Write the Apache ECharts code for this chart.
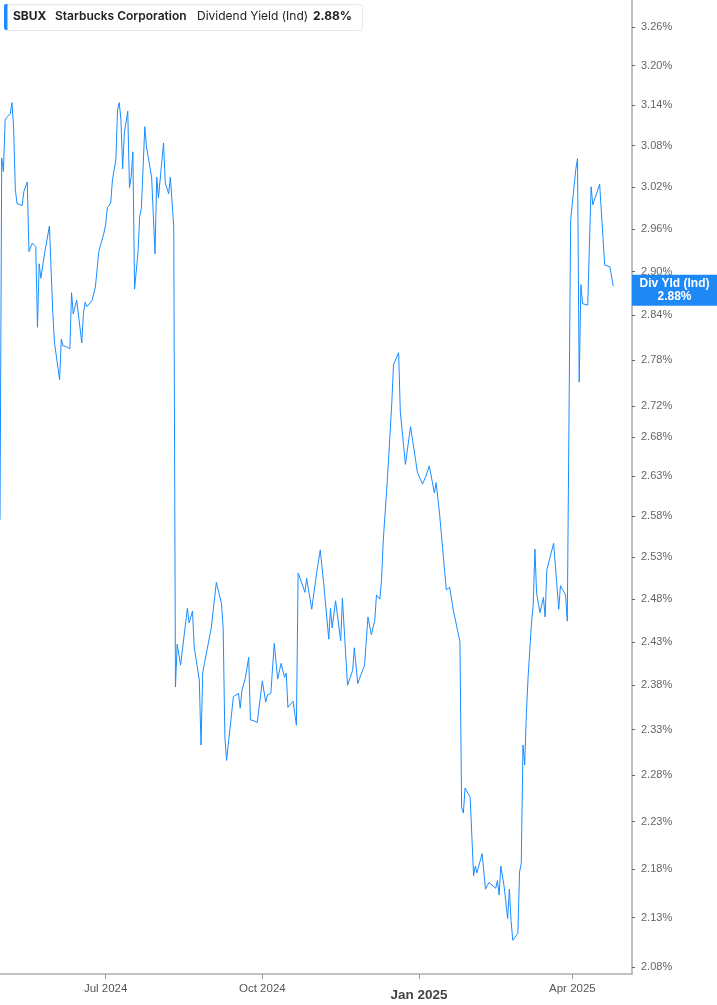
<!DOCTYPE html>
<html>
<head>
<meta charset="utf-8">
<script src="https://cdn.jsdelivr.net/npm/echarts@6.0.0/dist/echarts.min.js"></script>
<style>
	html, body { margin: 0; padding: 0; background: #fff; }
	#lineChart1 { width: 717px; height: 1005px; }
</style>
</head>
<body>
<div id="lineChart1"></div>
<script>

var dates = [
	'2024-04-30','2024-05-01','2024-05-02','2024-05-03','2024-05-04','2024-05-06','2024-05-07','2024-05-08','2024-05-09','2024-05-10',
	'2024-05-13','2024-05-14','2024-05-15','2024-05-16','2024-05-17','2024-05-19','2024-05-21','2024-05-22','2024-05-23','2024-05-24',
	'2024-05-26','2024-05-29','2024-05-31','2024-06-01','2024-06-04','2024-06-05','2024-06-06','2024-06-08','2024-06-10','2024-06-11',
	'2024-06-12','2024-06-14','2024-06-17','2024-06-18','2024-06-19','2024-06-20','2024-06-23','2024-06-25','2024-06-26','2024-06-27',
	'2024-06-30','2024-07-01','2024-07-02','2024-07-04','2024-07-05','2024-07-07','2024-07-08','2024-07-09','2024-07-10','2024-07-11',
	'2024-07-12','2024-07-14','2024-07-15','2024-07-16','2024-07-17','2024-07-18','2024-07-20','2024-07-21','2024-07-22','2024-07-24',
	'2024-07-25','2024-07-28','2024-07-30','2024-07-31','2024-08-01','2024-08-04','2024-08-05','2024-08-06','2024-08-07','2024-08-08',
	'2024-08-10','2024-08-11','2024-08-12','2024-08-14','2024-08-15','2024-08-18','2024-08-19','2024-08-21','2024-08-22','2024-08-25',
	'2024-08-26','2024-08-27','2024-08-28','2024-09-01','2024-09-04','2024-09-07','2024-09-08','2024-09-09','2024-09-10','2024-09-14',
	'2024-09-15','2024-09-17','2024-09-18','2024-09-19','2024-09-21','2024-09-23','2024-09-24','2024-09-26','2024-09-28','2024-10-01',
	'2024-10-03','2024-10-04','2024-10-06','2024-10-07','2024-10-08','2024-10-10','2024-10-12','2024-10-14','2024-10-15','2024-10-16',
	'2024-10-19','2024-10-21','2024-10-22','2024-10-23','2024-10-26','2024-10-27','2024-10-28','2024-10-30','2024-11-02','2024-11-04',
	'2024-11-05','2024-11-06','2024-11-09','2024-11-10','2024-11-11','2024-11-13','2024-11-16','2024-11-17','2024-11-18','2024-11-20',
	'2024-11-23','2024-11-24','2024-11-26','2024-11-30','2024-12-01','2024-12-02','2024-12-04','2024-12-06','2024-12-07','2024-12-09',
	'2024-12-10','2024-12-11','2024-12-13','2024-12-14','2024-12-16','2024-12-17','2024-12-20','2024-12-21','2024-12-24','2024-12-27',
	'2024-12-30','2024-12-31','2025-01-03','2025-01-05','2025-01-07','2025-01-10','2025-01-11','2025-01-12','2025-01-13','2025-01-17',
	'2025-01-19','2025-01-20','2025-01-21','2025-01-25','2025-01-26','2025-01-27','2025-01-28','2025-01-31','2025-02-02','2025-02-03',
	'2025-02-04','2025-02-07','2025-02-09','2025-02-11','2025-02-15','2025-02-16','2025-02-17','2025-02-18','2025-02-20','2025-02-22',
	'2025-02-23','2025-02-24','2025-02-25','2025-02-28','2025-03-01','2025-03-02','2025-03-03','2025-03-04','2025-03-05','2025-03-06',
	'2025-03-08','2025-03-09','2025-03-10','2025-03-11','2025-03-13','2025-03-15','2025-03-16','2025-03-17','2025-03-21','2025-03-22',
	'2025-03-23','2025-03-24','2025-03-25','2025-03-28','2025-03-29','2025-03-31','2025-04-03','2025-04-04','2025-04-05','2025-04-06',
	'2025-04-07','2025-04-10','2025-04-12','2025-04-13','2025-04-17','2025-04-20','2025-04-23','2025-04-24','2025-04-25'
];

var yields = [
	2.576,3.062,3.042,3.118,3.122,3.127,3.144,3.106,3.016,2.996,
	2.993,3.013,3.011,3.027,2.928,2.940,2.935,2.824,2.911,2.891,
	2.923,2.964,2.843,2.803,2.754,2.808,2.799,2.798,2.795,2.871,
	2.842,2.861,2.803,2.843,2.858,2.852,2.860,2.879,2.878,2.928,
	2.954,2.966,2.990,2.997,3.030,3.059,3.133,3.144,3.118,3.046,
	3.099,3.131,3.019,3.034,3.071,2.876,2.926,2.977,2.990,3.108,
	3.078,3.034,2.925,3.034,3.004,3.084,3.026,3.026,3.010,3.034,
	2.963,2.378,2.427,2.403,2.405,2.469,2.452,2.466,2.424,2.386,
	2.313,2.394,2.405,2.446,2.500,2.475,2.446,2.322,2.296,2.367,
	2.365,2.371,2.354,2.374,2.388,2.412,2.341,2.340,2.338,2.385,
	2.361,2.369,2.371,2.370,2.428,2.387,2.405,2.389,2.394,2.355,
	2.362,2.335,2.511,2.506,2.488,2.505,2.506,2.468,2.513,2.539,
	2.538,2.499,2.433,2.469,2.446,2.478,2.431,2.481,2.482,2.380,
	2.397,2.423,2.382,2.403,2.403,2.459,2.438,2.455,2.485,2.480,
	2.504,2.551,2.613,2.647,2.724,2.774,2.790,2.712,2.645,2.693,
	2.650,2.635,2.620,2.630,2.643,2.609,2.622,2.620,2.584,2.491,
	2.494,2.493,2.468,2.430,2.245,2.239,2.266,2.256,2.173,2.183,
	2.176,2.196,2.159,2.166,2.160,2.168,2.153,2.183,2.161,2.129,
	2.159,2.127,2.107,2.114,2.177,2.186,2.313,2.291,2.348,2.389,
	2.452,2.473,2.540,2.487,2.464,2.482,2.459,2.515,2.547,2.545,
	2.494,2.468,2.496,2.485,2.454,2.973,3.045,3.061,2.751,2.882,
	2.856,2.854,3.020,2.994,3.024,2.909,2.907,2.905,2.880
];

var yTicks = [2.08, 2.13, 2.18, 2.23, 2.28, 2.33, 2.38, 2.43, 2.48, 2.53, 2.58, 2.63, 2.68, 2.72, 2.78, 2.84, 2.90, 2.96, 3.02, 3.08, 3.14, 3.20, 3.26];
var xTicks = ['2024-07-01', '2024-10-01', '2025-01-01', '2025-04-01'];
var monthNames = ['Jan','Feb','Mar','Apr','May','Jun','Jul','Aug','Sep','Oct','Nov','Dec'];
var lastYield = 2.88;

function toTime(s) {
	var p = s.split('-');
	return new Date(+p[0], +p[1] - 1, +p[2]).getTime();
}

var seriesData = [];
for (var i = 0; i < dates.length; i++) {
	seriesData.push([toTime(dates[i]), yields[i]]);
}
var xTickTimes = xTicks.map(toTime);

var lineChart1 = echarts.init(document.getElementById('lineChart1'));

// x axis is a value axis over timestamps, so custom ticks can be placed on the month starts
var option = {
	animation: false,
	backgroundColor: '#fff',
	textStyle: { fontFamily: 'Liberation Sans' },
	grid: { left: 0, right: 85, top: 0, bottom: 31 },
	graphic: [
		{ type: 'rect', left: 4, top: 4, shape: { width: 358, height: 26, r: 3 }, style: { fill: '#fff', stroke: '#e6e6e6', lineWidth: 1 } },
		{ type: 'rect', left: 4, top: 4, shape: { width: 3.5, height: 26, r: [2, 0, 0, 2] }, style: { fill: '#1a8cff' } },
		{ type: 'text', left: 13, top: 10.5, style: { text: 'SBUX', font: 'bold 12px Inter', fill: '#222' } },
		{ type: 'text', left: 55, top: 10.5, style: { text: 'Starbucks Corporation', font: '600 12px Inter', fill: '#222' } },
		{ type: 'text', left: 197, top: 10.5, style: { text: 'Dividend Yield (Ind)', font: '12px Inter', fill: '#222' } },
		{ type: 'text', left: 313, top: 10.5, style: { text: '2.88%', font: 'bold 12px Inter', fill: '#222' } }
	],
	xAxis: {
		type: 'value',
		min: toTime('2024-04-30'),
		max: toTime('2025-05-06'),
		axisLine: { show: true, lineStyle: { color: '#b0b0b0', width: 1.5 } },
		axisTick: { show: true, length: 5, customValues: xTickTimes, lineStyle: { color: '#999' } },
		splitLine: { show: false },
		axisLabel: {
			customValues: xTickTimes,
			color: '#555',
			fontSize: 11.5,
			margin: 9,
			formatter: function (v) {
				var d = new Date(v);
				var s = monthNames[d.getMonth()] + ' ' + d.getFullYear();
				return d.getMonth() === 0 ? '{b|' + s + '}' : s;
			},
			rich: {
				b: { fontWeight: 'bold', fontSize: 13.5, color: '#444', padding: [5, 0, 0, 0] }
			}
		}
	},
	yAxis: {
		type: 'log',
		position: 'right',
		min: 2.0733,
		max: 3.302,
		axisLine: { show: true, lineStyle: { color: '#aaa', width: 1.5 } },
		axisTick: { show: true, length: 3, customValues: yTicks, lineStyle: { color: '#666' } },
		splitLine: { show: false },
		axisLabel: {
			customValues: yTicks,
			color: '#666',
			fontSize: 11,
			margin: 9,
			formatter: function (v) { return (+v).toFixed(2) + '%'; }
		}
	},
	series: [
		{
			name: 'Div Yld (Ind)',
			type: 'line',
			data: seriesData,
			showSymbol: false,
			symbol: 'none',
			lineStyle: { color: '#1a8cff', width: 1 },
			markLine: {
				silent: true,
				symbol: 'none',
				lineStyle: { width: 0, color: 'rgba(0,0,0,0)' },
				data: [{ yAxis: lastYield }],
				label: {
					show: true,
					opacity: 1,
					position: 'end',
					distance: 0,
					offset: [0, 4],
					formatter: '{a|Div Yld (Ind)}\n{a|' + lastYield.toFixed(2) + '%}',
					backgroundColor: '#1e88f5',
					padding: [3, 0, 2, 0],
					rich: {
						a: { width: 85, align: 'center', color: '#fff', fontWeight: 'bold', fontSize: 12, lineHeight: 13, fontFamily: 'Liberation Sans' }
					}
				}
			}
		}
	]
};

lineChart1.setOption(option);

</script>
</body>
</html>
